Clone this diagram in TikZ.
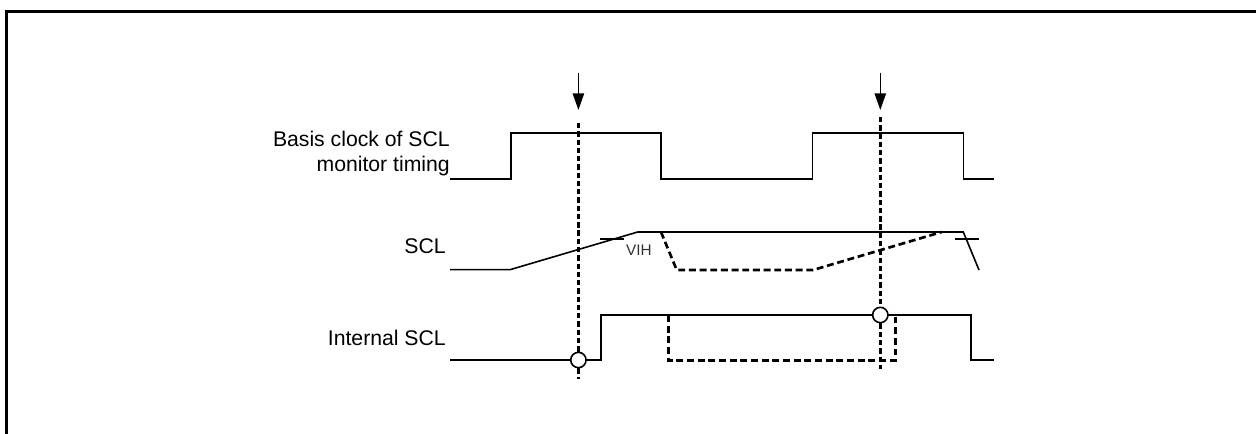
\documentclass[tikz,border=0pt]{standalone}
\usepackage{fontspec}
\setmainfont{Liberation Sans}
\usetikzlibrary{arrows.meta,positioning,calc}

\begin{document}
\begin{tikzpicture}[
        x=0.75pt, y=-0.75pt,
        wave/.style={line width=1.2pt,line join=miter},
        dashwave/.style={line width=2pt,dash pattern=on 5.2pt off 2.8pt},
        probe/.style={line width=2pt,dash pattern=on 4pt off 2.2pt},
        sample/.style={-{Stealth[length=12.5pt,width=8.5pt,inset=0pt]},line width=1.2pt},
        sampledot/.style={circle,draw,fill=white,line width=1.2pt,inner sep=0pt,minimum size=11.5pt},
        siglabel/.style={align=right,anchor=base east,font=\fontsize{15.9}{19.3}\selectfont,inner sep=0pt},
        >=Stealth
      ]
      \useasboundingbox (0,0) rectangle (1256,434);
      % outer frame, open at right and bottom
      \draw[line width=2.25pt] (6.5,434) -- (6.5,11.5) -- (1256,11.5);

      % labels
      \node[siglabel] (LBasis) at (450,172) {Basis clock of SCL\\monitor timing};
      \node[siglabel] (LScl) at (446,254) {SCL};
      \node[siglabel] (LInt) at (446,346) {Internal SCL};
      \node[font=\fontsize{11.5}{13}\selectfont,text=black!80,inner sep=0pt] (VIH) at (639,250) {VIH};

      % basis clock
      \draw[wave] (450,179) -- (511,179) -- (511,133.3) -- (661,133.3) -- (661,179)
                  -- (812.3,179) -- (812.3,133.3) -- (963.3,133.3) -- (963.3,179) -- (994,179);

      % SCL
      \draw[wave] (450,269.7) -- (510,269.7) -- (637.7,232) -- (963.3,232) -- (979,270);
      \draw[wave] (600,239.3) -- (623.5,239.3);
      \draw[wave] (955.3,239.3) -- (979.3,239.3);
      \draw[dashwave] (661,232) -- (676.7,270) -- (813,270) -- (941.7,232);

      % internal SCL
      \draw[wave] (450,360) -- (600.7,360) -- (600.7,315) -- (971,315) -- (971,360) -- (994,360);
      \draw[dashwave] (668.4,315) -- (668.4,360.4) -- (895.4,360.4) -- (895.4,315);

      % sampling points
      \node[sampledot] (M1) at (578.4,360) {};
      \node[sampledot] (M2) at (880.3,315) {};
      \coordinate (T1) at (578.4,72.7);
      \coordinate (H1) at (578.4,110);
      \coordinate (D1) at (578.4,123);
      \coordinate (E1) at (578.4,379);
      \coordinate (T2) at (880.3,72.7);
      \coordinate (H2) at (880.3,110);
      \coordinate (D2) at (880.3,117);
      \coordinate (E2) at (880.3,369);
      \draw[sample] (T1) -- (H1);
      \draw[sample] (T2) -- (H2);
      \draw[probe] (D1) -- (M1);
      \draw[probe] (M1) -- (E1);
      \draw[probe] (D2) -- (M2);
      \draw[probe] (M2) -- (E2);
    \end{tikzpicture}
\end{document}
